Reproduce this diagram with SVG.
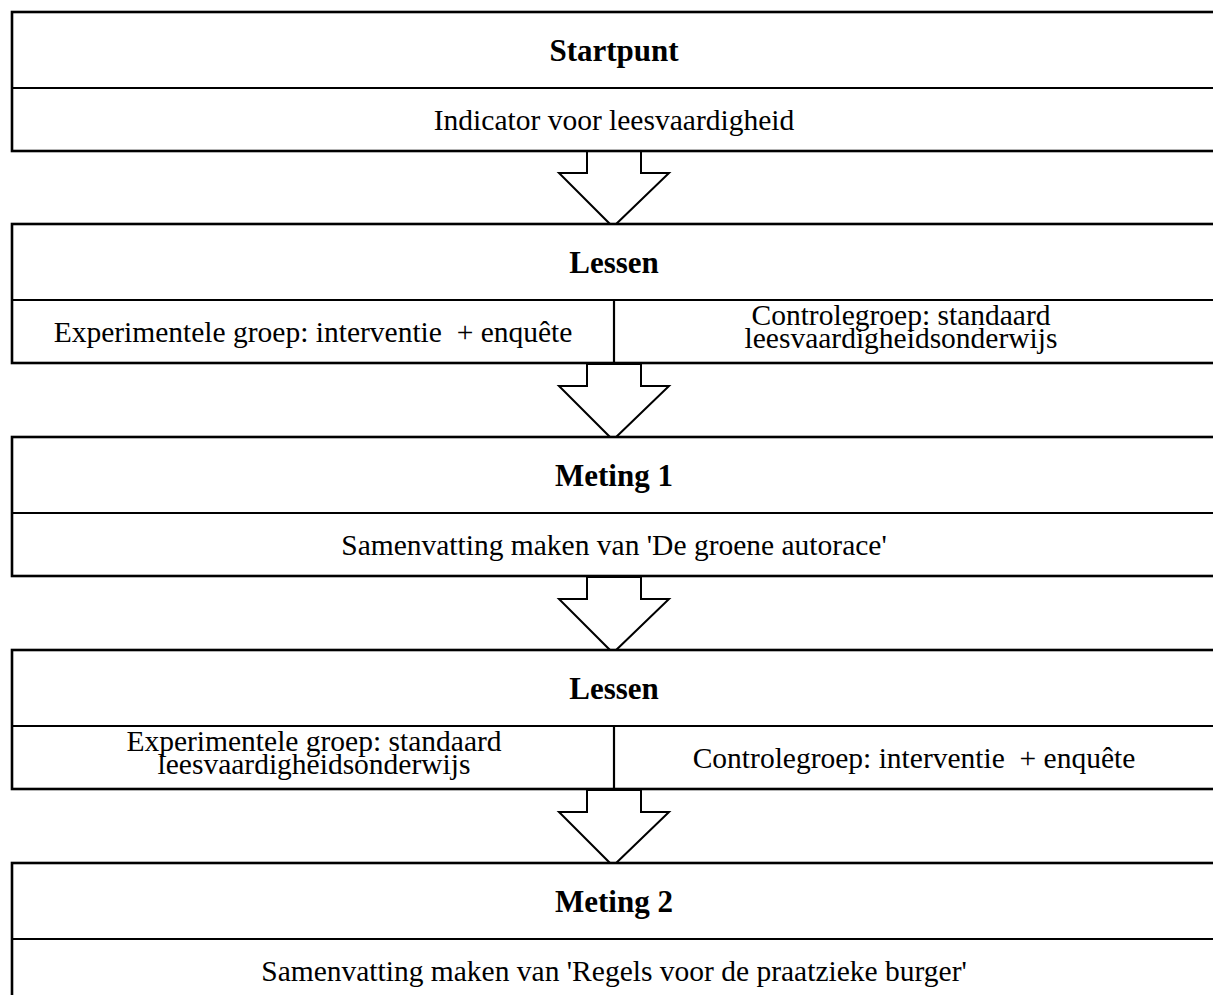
<svg xmlns="http://www.w3.org/2000/svg" width="1213" height="995" viewBox="0 0 1213 995">
<style>
.box{fill:#fff;stroke:#000;stroke-width:2.6}
.div{stroke:#000;stroke-width:2.2;fill:none}
.arr{fill:#fff;stroke:#000;stroke-width:2}
.t{font-family:"Liberation Serif","Times New Roman",serif;font-size:29.5px;fill:#000;text-anchor:middle;white-space:pre}
.b{font-weight:bold;font-size:31px}
</style>
<rect width="1213" height="995" fill="#fff"/>
<g id="connectors">
<polygon class="arr" points="587,151 587,173 559,173 613,227 669,173 641,173 641,151"/>
<polygon class="arr" points="587,364 587,386 559,386 613,440 669,386 641,386 641,364"/>
<polygon class="arr" points="587,577 587,599 559,599 613,653 669,599 641,599 641,577"/>
<polygon class="arr" points="587,790 587,812 559,812 613,866 669,812 641,812 641,790"/>
</g>
<g id="node1">
<rect class="box" x="12" y="12" width="1220" height="139"/>
<line class="div" x1="12" y1="88" x2="1213" y2="88"/>
<text class="t b" x="614" y="61">Startpunt</text>
<text class="t" x="614" y="130">Indicator voor leesvaardigheid</text>
</g>
<g id="node2">
<rect class="box" x="12" y="224" width="1220" height="139"/>
<line class="div" x1="12" y1="300" x2="1213" y2="300"/>
<line class="div" x1="614" y1="300" x2="614" y2="363"/>
<text class="t b" x="614" y="273">Lessen</text>
<text class="t" x="313" y="342" xml:space="preserve">Experimentele groep: interventie  + enquête</text>
<text class="t" x="901" y="325">Controlegroep: standaard</text>
<text class="t" x="901" y="348">leesvaardigheidsonderwijs</text>
</g>
<g id="node3">
<rect class="box" x="12" y="437" width="1220" height="139"/>
<line class="div" x1="12" y1="513" x2="1213" y2="513"/>
<text class="t b" x="614" y="486">Meting 1</text>
<text class="t" x="614" y="555">Samenvatting maken van 'De groene autorace'</text>
</g>
<g id="node4">
<rect class="box" x="12" y="650" width="1220" height="139"/>
<line class="div" x1="12" y1="726" x2="1213" y2="726"/>
<line class="div" x1="614" y1="726" x2="614" y2="789"/>
<text class="t b" x="614" y="699">Lessen</text>
<text class="t" x="314" y="751">Experimentele groep: standaard</text>
<text class="t" x="314" y="774">leesvaardigheidsonderwijs</text>
<text class="t" x="914" y="768" xml:space="preserve">Controlegroep: interventie  + enquête</text>
</g>
<g id="node5">
<rect class="box" x="12" y="863" width="1220" height="139"/>
<line class="div" x1="12" y1="939" x2="1213" y2="939"/>
<text class="t b" x="614" y="912">Meting 2</text>
<text class="t" x="614" y="981">Samenvatting maken van 'Regels voor de praatzieke burger'</text>
</g>
</svg>
